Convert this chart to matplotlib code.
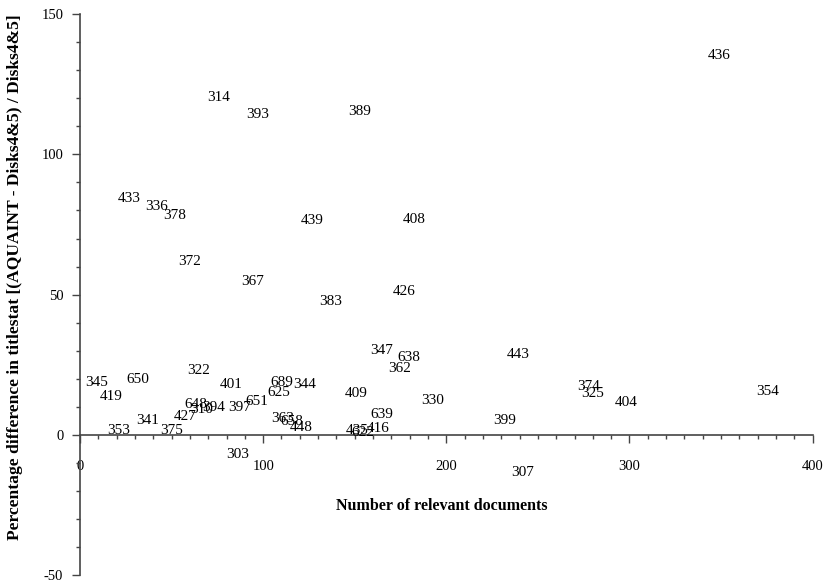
import numpy as np
import matplotlib
matplotlib.use('Agg')
import matplotlib.pyplot as plt
from matplotlib.ticker import MultipleLocator

# topic ids and their positions
topics = ['436', '314', '393', '389', '433', '336', '378', '439', '408',
          '372', '367', '383', '426', '347', '638', '362', '443', '345',
          '650', '322', '401', '689', '625', '344', '419', '409', '374',
          '325', '354', '330', '404', '651', '397', '648', '310', '394',
          '427', '341', '639', '399', '363', '658', '448', '353', '375',
          '435', '622', '416', '303', '307']
num_rel = [349, 75.8, 96.7, 152.7, 26.7, 42, 51.8, 126.6, 182.7,
           60, 94.4, 136.9, 176.8, 164.7, 179.5, 174.6, 239.5, 9.3,
           31.8, 65, 82.7, 110, 108.7, 122.7, 16.9, 151, 277.7,
           279.8, 375.3, 192.6, 298.4, 96.7, 87, 63.3, 66.4, 72.7,
           57.3, 36.8, 164.7, 231.9, 110.7, 115.7, 121, 20.9, 50,
           151.6, 154.5, 163, 85.8, 241.7]
pct_diff = [135.2, 120.3, 114.2, 115.3, 84.3, 81.5, 78.3, 76.5, 76.9,
            61.9, 54.8, 47.7, 51.2, 30.2, 27.4, 23.5, 28.8, 18.5,
            19.6, 23.1, 17.8, 18.5, 15.0, 17.8, 13.5, 14.6, 17.4,
            14.9, 15.3, 12.1, 11.4, 11.7, 9.6, 10.7, 8.9, 9.6,
            6.4, 5.0, 7.1, 5.0, 5.7, 4.6, 2.5, 1.4, 1.4,
            1.4, 0.7, 2.1, -7.1, -13.5]

plt.rcParams['font.family'] = ['Liberation Serif', 'DejaVu Serif']
plt.rcParams['axes.unicode_minus'] = False

fig = plt.figure(figsize=(8.25, 5.83), dpi=100)
ax = fig.add_axes([0.097, 0.0137, 0.888, 0.962])

for t, x, y in zip(topics, num_rel, pct_diff):
    ax.text(x, y, t, ha='center', va='center', fontsize=11, color='black')

ax.set_xlim(0, 400)
ax.set_ylim(-50, 150)

axis_col = '#444444'
ax.spines['top'].set_visible(False)
ax.spines['right'].set_visible(False)
ax.spines['left'].set_position(('data', 0))
ax.spines['bottom'].set_position(('data', 0))
ax.spines['left'].set_color(axis_col)
ax.spines['bottom'].set_color(axis_col)
ax.spines['left'].set_linewidth(1.2)
ax.spines['bottom'].set_linewidth(1.2)

ax.xaxis.set_major_locator(MultipleLocator(100))
ax.xaxis.set_minor_locator(MultipleLocator(10))
ax.yaxis.set_major_locator(MultipleLocator(50))
ax.yaxis.set_minor_locator(MultipleLocator(10))
ax.tick_params(axis='x', which='major', direction='out', length=6, width=1,
               color=axis_col, pad=12, labelsize=10.5)
ax.tick_params(axis='x', which='minor', direction='out', length=3, width=1,
               color=axis_col)
ax.tick_params(axis='y', which='major', direction='out', length=6, width=1,
               color=axis_col, pad=6, labelsize=10.5)
ax.tick_params(axis='y', which='minor', direction='out', length=3, width=1,
               color=axis_col)

fig.text(442 / 825, 1 - 506 / 583, 'Number of relevant documents',
         ha='center', va='center', fontsize=11.5, fontweight='bold')
fig.text(15 / 825, 1 - 277 / 583,
         'Percentage difference in titlestat [(AQUAINT - Disks4&5) / Disks4&5]',
         ha='center', va='center', rotation=90, fontsize=12.6, fontweight='bold')

fig.savefig('out.png', dpi=100)
